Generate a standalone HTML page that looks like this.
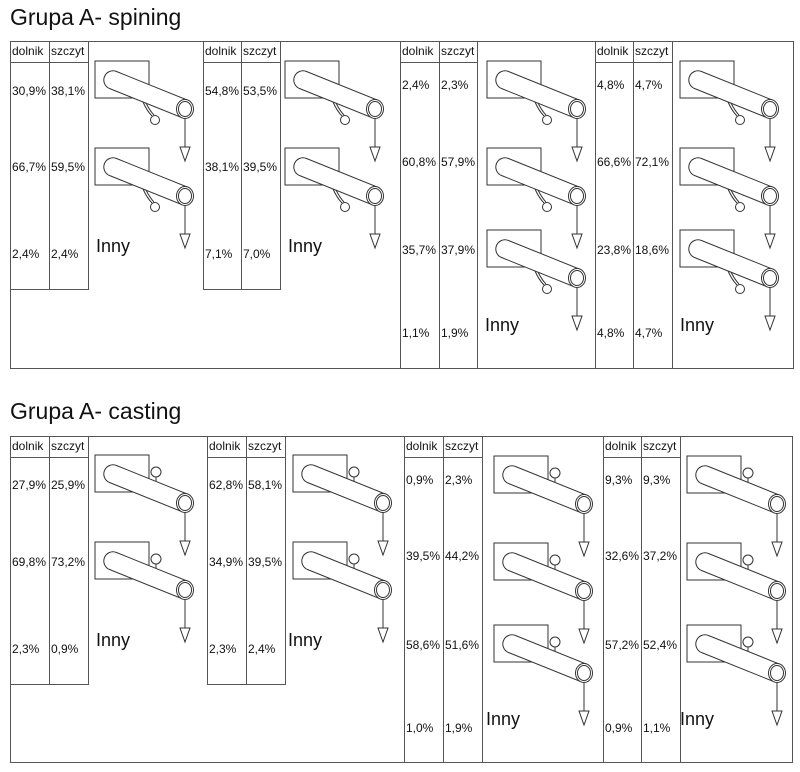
<!DOCTYPE html>
<html><head><meta charset="utf-8"><style>
html,body{margin:0;padding:0;background:#fff;}
svg{display:block;font-family:"Liberation Sans",Arial,sans-serif;}
</style></head><body>
<svg width="800" height="772" viewBox="0 0 800 772" xmlns="http://www.w3.org/2000/svg">
<defs>
<g id="tube" fill="none" stroke="#333" stroke-width="1">
  <rect x="0" y="0" width="54" height="37" fill="#fff"/>
  <path d="M21.5,10.5 L93.5,39.5 L86.5,56.5 L14.5,27.5 A9,9 0 0 1 21.5,10.5 Z" fill="#fff"/>
  <ellipse cx="90" cy="48" rx="8.5" ry="9.5" fill="#fff"/>
  <ellipse cx="90" cy="48" rx="6.5" ry="7.5"/>
  <line x1="90" y1="57.5" x2="90" y2="86"/>
  <path d="M85,86 L95,86 L90,100 Z"/>
</g>
<g id="spin" fill="none" stroke="#333" stroke-width="1">
  <use href="#tube"/>
  <path d="M48,41 Q52,50 57,55"/><path d="M51,42 Q55,50 59,54"/>
  <circle cx="60" cy="59" r="4.5" fill="#fff"/>
</g>
<g id="cast" fill="none" stroke="#333" stroke-width="1">
  <use href="#tube"/>
  <circle cx="61" cy="17" r="5" fill="#fff"/>
  <line x1="61" y1="22" x2="61" y2="26"/>
</g>
</defs>

<text x="10" y="25" font-size="23" fill="#111">Grupa A- spining</text>
<text x="10" y="419" font-size="23" fill="#111">Grupa A- casting</text>

<g fill="none" stroke="#555" stroke-width="1">
  <rect x="10.5" y="41.5" width="783" height="327"/>
  <line x1="10" y1="62.5" x2="88" y2="62.5"/>
  <line x1="49.5" y1="41" x2="49.5" y2="290"/>
  <line x1="88.5" y1="41" x2="88.5" y2="290"/>
  <line x1="10" y1="289.5" x2="88" y2="289.5"/>
  <line x1="203.5" y1="41" x2="203.5" y2="290"/>
  <line x1="241.5" y1="41" x2="241.5" y2="290"/>
  <line x1="280.5" y1="41" x2="280.5" y2="290"/>
  <line x1="203" y1="62.5" x2="280" y2="62.5"/>
  <line x1="203" y1="289.5" x2="280" y2="289.5"/>
  <line x1="400.5" y1="41" x2="400.5" y2="368"/>
  <line x1="439.5" y1="41" x2="439.5" y2="368"/>
  <line x1="477.5" y1="41" x2="477.5" y2="368"/>
  <line x1="400" y1="62.5" x2="477" y2="62.5"/>
  <line x1="595.5" y1="41" x2="595.5" y2="368"/>
  <line x1="633.5" y1="41" x2="633.5" y2="368"/>
  <line x1="672.5" y1="41" x2="672.5" y2="368"/>
  <line x1="595" y1="62.5" x2="672" y2="62.5"/>
  <rect x="10.5" y="436.5" width="782" height="326"/>
  <line x1="10" y1="457.5" x2="88" y2="457.5"/>
  <line x1="49.5" y1="436" x2="49.5" y2="685"/>
  <line x1="88.5" y1="436" x2="88.5" y2="685"/>
  <line x1="10" y1="684.5" x2="88" y2="684.5"/>
  <line x1="207.5" y1="436" x2="207.5" y2="685"/>
  <line x1="246.5" y1="436" x2="246.5" y2="685"/>
  <line x1="285.5" y1="436" x2="285.5" y2="685"/>
  <line x1="207" y1="457.5" x2="285" y2="457.5"/>
  <line x1="207" y1="684.5" x2="285" y2="684.5"/>
  <line x1="404.5" y1="436" x2="404.5" y2="763"/>
  <line x1="443.5" y1="436" x2="443.5" y2="763"/>
  <line x1="482.5" y1="436" x2="482.5" y2="763"/>
  <line x1="404" y1="457.5" x2="482" y2="457.5"/>
  <line x1="603.5" y1="436" x2="603.5" y2="763"/>
  <line x1="641.5" y1="436" x2="641.5" y2="763"/>
  <line x1="680.5" y1="436" x2="680.5" y2="763"/>
  <line x1="603" y1="457.5" x2="680" y2="457.5"/>
</g>

<use href="#spin" x="95" y="61"/><use href="#spin" x="95" y="148"/>
<use href="#spin" x="285" y="61"/><use href="#spin" x="285" y="148"/>
<use href="#spin" x="487" y="61"/><use href="#spin" x="487" y="148"/><use href="#spin" x="487" y="230"/>
<use href="#spin" x="680" y="61"/><use href="#spin" x="680" y="148"/><use href="#spin" x="680" y="230"/>
<use href="#cast" x="95" y="455"/><use href="#cast" x="95" y="542"/>
<use href="#cast" x="293" y="455"/><use href="#cast" x="293" y="542"/>
<use href="#cast" x="494" y="456"/><use href="#cast" x="494" y="543"/><use href="#cast" x="494" y="625"/>
<use href="#cast" x="687" y="456"/><use href="#cast" x="687" y="543"/><use href="#cast" x="687" y="625"/>

<g font-size="18" fill="#111">
<text x="96" y="252">Inny</text><text x="288" y="252">Inny</text>
<text x="485" y="331">Inny</text><text x="680" y="331">Inny</text>
<text x="96" y="646">Inny</text><text x="288" y="646">Inny</text>
<text x="486" y="725">Inny</text><text x="680" y="725">Inny</text>
</g>

<g font-size="12" fill="#111">
<text x="12" y="55">dolnik</text><text x="51" y="55">szczyt</text>
<text x="205" y="55">dolnik</text><text x="243" y="55">szczyt</text>
<text x="402" y="55">dolnik</text><text x="441" y="55">szczyt</text>
<text x="597" y="55">dolnik</text><text x="635" y="55">szczyt</text>
<text x="12" y="450">dolnik</text><text x="51" y="450">szczyt</text>
<text x="209" y="450">dolnik</text><text x="248" y="450">szczyt</text>
<text x="406" y="450">dolnik</text><text x="445" y="450">szczyt</text>
<text x="605" y="450">dolnik</text><text x="643" y="450">szczyt</text>
</g>

<g font-size="12" fill="#111">
<text x="12" y="95">30,9%</text><text x="51" y="95">38,1%</text>
<text x="12" y="171">66,7%</text><text x="51" y="171">59,5%</text>
<text x="12" y="258">2,4%</text><text x="51" y="258">2,4%</text>
<text x="205" y="95">54,8%</text><text x="243" y="95">53,5%</text>
<text x="205" y="171">38,1%</text><text x="243" y="171">39,5%</text>
<text x="205" y="258">7,1%</text><text x="243" y="258">7,0%</text>
<text x="402" y="89">2,4%</text><text x="441" y="89">2,3%</text>
<text x="402" y="166">60,8%</text><text x="441" y="166">57,9%</text>
<text x="402" y="254">35,7%</text><text x="441" y="254">37,9%</text>
<text x="402" y="337">1,1%</text><text x="441" y="337">1,9%</text>
<text x="597" y="89">4,8%</text><text x="635" y="89">4,7%</text>
<text x="597" y="166">66,6%</text><text x="635" y="166">72,1%</text>
<text x="597" y="254">23,8%</text><text x="635" y="254">18,6%</text>
<text x="597" y="337">4,8%</text><text x="635" y="337">4,7%</text>
<text x="12" y="489">27,9%</text><text x="51" y="489">25,9%</text>
<text x="12" y="566">69,8%</text><text x="51" y="566">73,2%</text>
<text x="12" y="653">2,3%</text><text x="51" y="653">0,9%</text>
<text x="209" y="489">62,8%</text><text x="248" y="489">58,1%</text>
<text x="209" y="566">34,9%</text><text x="248" y="566">39,5%</text>
<text x="209" y="653">2,3%</text><text x="248" y="653">2,4%</text>
<text x="406" y="484">0,9%</text><text x="445" y="484">2,3%</text>
<text x="406" y="560">39,5%</text><text x="445" y="560">44,2%</text>
<text x="406" y="649">58,6%</text><text x="445" y="649">51,6%</text>
<text x="406" y="732">1,0%</text><text x="445" y="732">1,9%</text>
<text x="605" y="484">9,3%</text><text x="643" y="484">9,3%</text>
<text x="605" y="560">32,6%</text><text x="643" y="560">37,2%</text>
<text x="605" y="649">57,2%</text><text x="643" y="649">52,4%</text>
<text x="605" y="732">0,9%</text><text x="643" y="732">1,1%</text>
</g>
</svg>
</body></html>
